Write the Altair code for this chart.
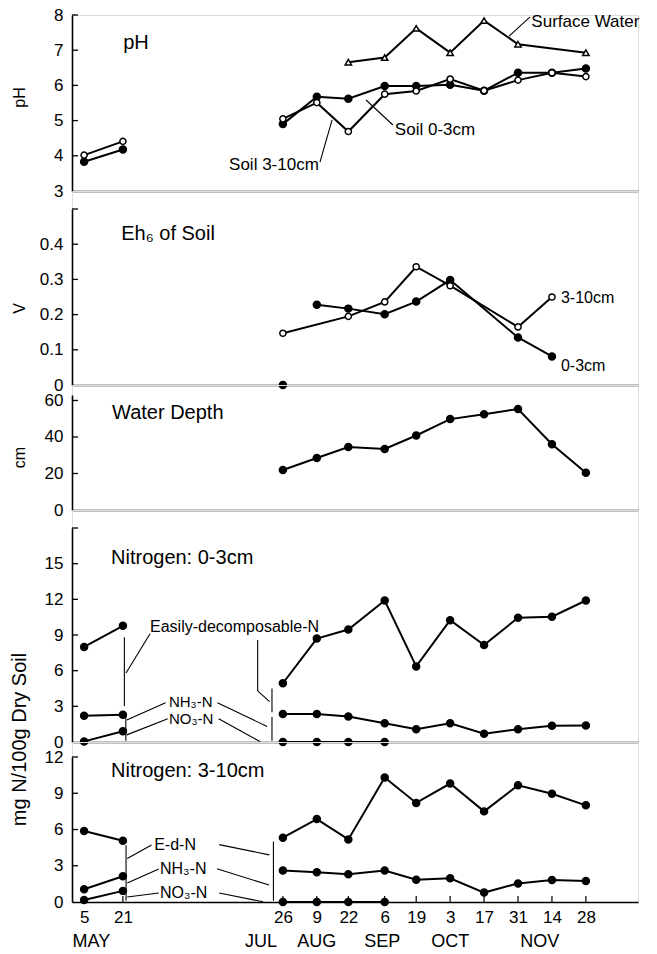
import altair as alt
import pandas as pd

# ---------------- shared x axis (day of year) ----------------
days = [125, 141, 207, 221, 234, 249, 262, 276, 290, 304, 318, 332]
day_labels = ["5", "21", "26", "9", "22", "6", "19", "3", "17", "31", "14", "28"]
month_labels = ["MAY", "JUL", "AUG", "SEP", "OCT", "NOV"]
month_days = [128, 198, 221, 248, 276, 313]

# ---------------- pH ----------------
ph_soil_0_3 = [3.83, 4.18, 4.90, 5.68, 5.62, 5.98, 5.98, 6.02, 5.85, 6.36, 6.36, 6.48]
ph_soil_3_10 = [4.02, 4.41, 5.05, 5.51, 4.69, 5.75, 5.84, 6.18, 5.85, 6.15, 6.36, 6.25]
ph_surface = [None, None, None, None, 6.66, 6.79, 7.62, 6.93, 7.84, 7.17, None, 6.93]
ph_ticks = [3, 4, 5, 6, 7, 8]

# ---------------- Eh6 (V) ----------------
eh_0_3 = [None, None, 0.0, 0.228, 0.217, 0.201, 0.237, 0.298, None, 0.135, 0.081, None]
eh_3_10 = [None, None, 0.147, None, 0.195, 0.236, 0.336, 0.282, None, 0.165, 0.25, None]
eh_ticks = [0, 0.1, 0.2, 0.3, 0.4]

# ---------------- Water depth (cm) ----------------
water_depth = [None, None, 21.9, 28.5, 34.5, 33.4, 40.8, 49.8, 52.5, 55.3, 36.0, 20.4]
wd_ticks = [0, 20, 40, 60]

# ---------------- Nitrogen 0-3 cm ----------------
n1_edn = [8.0, 9.77, 4.94, 8.7, 9.46, 11.9, 6.36, 10.25, 8.16, 10.45, 10.54, 11.9]
n1_nh3 = [2.2, 2.3, 2.35, 2.35, 2.15, 1.58, 1.08, 1.58, 0.69, 1.08, 1.36, 1.39]
n1_no3 = [0.05, 0.9, 0.0, 0.0, 0.0, 0.0, None, None, None, None, None, None]
n1_ticks = [0, 3, 6, 9, 12, 15]

# ---------------- Nitrogen 3-10 cm ----------------
n2_edn = [5.88, 5.07, 5.32, 6.86, 5.18, 10.3, 8.2, 9.8, 7.5, 9.66, 8.96, 8.0]
n2_nh3 = [1.06, 2.13, 2.6, 2.46, 2.3, 2.6, 1.85, 1.96, 0.78, 1.54, 1.82, 1.74]
n2_no3 = [0.17, 0.92, 0.0, 0.0, 0.0, 0.0, None, None, None, None, None, None]
n2_ticks = [0, 3, 6, 9, 12]

FONT = "Liberation Sans"
TICKFONT = "Liberation Sans"
X_DOMAIN = [120, 353.5]
W = 566


def series_df(values, name, marker, breaks=(2,)):
    rows = []
    for i, (d, v) in enumerate(zip(days, values)):
        if v is None:
            continue
        seg = sum(1 for b in breaks if i >= b)
        rows.append({"day": d, "value": v, "key": f"{name}-{seg}", "marker": marker})
    return pd.DataFrame(rows)


def texts_df(items):
    return pd.DataFrame(items, columns=["text", "day", "value", "fs"])


def segs_df(items):
    return pd.DataFrame(items, columns=["day", "value", "day2", "value2"])


label_expr = ("[" + ",".join(f"'{l}'" for l in day_labels) + "][indexof(["
              + ",".join(str(d) for d in days) + "], datum.value)]")


def panel(series, ydom, yticks, H, gap, ytitle, title_y, texts, segs, inner_ticks,
          bottom=False, title_size=16):
    if bottom:
        xaxis = alt.Axis(values=days, labelExpr=label_expr, ticks=False, grid=False, title=None,
                         labelFont=TICKFONT, labelFontSize=17, labelPadding=7, labelColor="black",
                         domainColor="black", domainWidth=1.6)
    else:
        xaxis = alt.Axis(labels=False, ticks=False, grid=False, title=None,
                         domainColor="black", domainWidth=1.6)
    x = alt.X("day:Q", scale=alt.Scale(domain=X_DOMAIN, nice=False, zero=False), axis=xaxis)
    yaxis_kw = dict(values=yticks, format="~r", ticks=False, grid=False, labelFont=TICKFONT,
                    labelFontSize=17, labelPadding=9, labelColor="black",
                    domainColor="black", domainWidth=1.6)
    if ytitle:
        yaxis_kw.update(title=ytitle, titleX=-53, titleY=title_y, titleAngle=270,
                        titleBaseline="middle", titleAlign="center", titleFont=FONT,
                        titleFontSize=title_size, titleFontWeight="normal", titleColor="black")
    else:
        yaxis_kw.update(title=None)
    y = alt.Y("value:Q", scale=alt.Scale(domain=ydom, range=[H, gap], nice=False, zero=False),
              axis=alt.Axis(**yaxis_kw))

    df = pd.concat(series, ignore_index=True)
    base = alt.Chart(df)
    layers = [
        base.mark_line(color="black", strokeWidth=2).encode(x=x, y=y, detail="key:N"),
        base.transform_filter("datum.marker == 'filled'").mark_point(
            shape="circle", filled=True, fill="black", stroke="black", size=42, opacity=1
        ).encode(x=x, y=y),
        base.transform_filter("datum.marker == 'open'").mark_point(
            shape="circle", filled=True, fill="white", stroke="black", strokeWidth=1.5, size=38, opacity=1
        ).encode(x=x, y=y),
        base.transform_filter("datum.marker == 'tri'").mark_point(
            shape="triangle-up", filled=True, fill="white", stroke="black", strokeWidth=1.5, size=40, opacity=1
        ).encode(x=x, y=y),
        alt.Chart(pd.DataFrame({"value": inner_ticks})).mark_rule(color="black", strokeWidth=1.3).encode(
            x=alt.value(0), x2=alt.value(6), y=y),
    ]
    if segs:
        layers.append(alt.Chart(segs_df(segs)).mark_rule(color="black", strokeWidth=1.1).encode(
            x=x, y=y, x2="day2:Q", y2="value2:Q"))
    layers.append(alt.Chart(texts_df(texts)).mark_text(
        align="left", baseline="middle", font=FONT, color="black").encode(
        x=x, y=y, text="text:N", size=alt.Size("fs:Q", scale=None, legend=None)))
    if bottom:
        layers.append(alt.Chart(pd.DataFrame({"day": days})).mark_rule(color="black", strokeWidth=1.2).encode(
            x=x, y=alt.value(H), y2=alt.value(H - 6)))
        layers.append(alt.Chart(pd.DataFrame({"day": month_days, "text": month_labels})).mark_text(
            align="center", baseline="middle", font=TICKFONT, fontSize=18, color="black").encode(
            x=x, y=alt.value(H + 40), text="text:N"))
    return alt.layer(*layers).properties(width=W, height=H)


p1 = panel(
    [series_df(ph_soil_0_3, "s03", "filled"), series_df(ph_soil_3_10, "s310", "open"),
     series_df(ph_surface, "sw", "tri")],
    [3, 8], ph_ticks, 176, 0, "pH", 82,
    [("pH", 141.1, 7.2, 20), ("Surface Water", 309.5, 7.8, 17),
     ("Soil 0-3cm", 253.2, 4.73, 17), ("Soil 3-10cm", 184.8, 3.74, 17)],
    [(308.9, 7.94, 300.3, 7.40), (252.4, 4.875, 241.3, 5.585), (222.3, 3.82, 227.3, 5.02)],
    [4, 5, 6, 7, 8],
)

p2 = panel(
    [series_df(eh_0_3, "e03", "filled", breaks=(2, 3)), series_df(eh_3_10, "e310", "open")],
    [0, 0.5], eh_ticks, 194, 18, "V", 117,
    [("Eh\u2086 of Soil", 140.3, 0.428, 20), ("3-10cm", 321.7, 0.248, 16), ("0-3cm", 321.7, 0.054, 16)],
    [],
    [0.1, 0.2, 0.3, 0.4, 0.5],
)

p3 = panel(
    [series_df(water_depth, "wd", "filled")],
    [0, 63], wd_ticks, 125, 10, "cm", 72,
    [("Water Depth", 136.5, 52.9, 20)],
    [],
    [20, 40, 60],
)

p4 = panel(
    [series_df(n1_edn, "edn", "filled"), series_df(n1_nh3, "nh3", "filled"),
     series_df(n1_no3, "no3", "filled")],
    [0, 18], n1_ticks, 232, 18, "mg N/100g Dry Soil", 229,
    [("Nitrogen: 0-3cm", 136.1, 15.46, 20), ("Easily-decomposable-N", 152.2, 9.66, 16),
     ("NH\u2083-N", 160.0, 3.4, 15), ("NO\u2083-N", 160.0, 1.95, 15)],
    [(141.6, 8.82, 141.6, 3.03), (142.3, 5.8, 152.2, 9.1),
     (196.6, 8.57, 196.6, 4.3), (196.6, 4.3, 201.5, 3.4), (202.5, 4.5, 202.5, 2.5),
     (158.6, 3.3, 142.6, 1.85), (159.5, 1.95, 142.6, 0.6), (142.2, 2.2, 142.2, 0.1),
     (180.0, 3.3, 200.5, 1.3), (180.5, 1.95, 197.5, 0.05), (202.5, 2.1, 202.5, 0.1)],
    [3, 6, 9, 12, 15, 18],
    title_size=20,
)

p5 = panel(
    [series_df(n2_edn, "edn", "filled"), series_df(n2_nh3, "nh3", "filled"),
     series_df(n2_no3, "no3", "filled")],
    [0, 12], n2_ticks, 160, 15, None, 0,
    [("Nitrogen: 3-10cm", 136.1, 10.83, 20), ("E-d-N", 153.9, 4.71, 16),
     ("NH\u2083-N", 156.3, 2.73, 16), ("NO\u2083-N", 156.3, 0.74, 16)],
    [(142.3, 4.7, 142.3, 0.1), (152.8, 4.71, 142.8, 3.6), (155.8, 2.73, 142.8, 1.57),
     (155.8, 0.74, 142.8, 0.42), (180.7, 4.75, 201.4, 3.9), (179.8, 2.75, 201.3, 1.4),
     (180.7, 0.75, 198.8, 0.02), (203.1, 5.0, 203.1, 0.1)],
    [3, 6, 9, 12],
    bottom=True,
)

chart = alt.vconcat(p1, p2, p3, p4, p5, spacing=0, bounds="flush").properties(
    padding={"left": 8, "top": 5, "right": 0, "bottom": 0}
).configure_view(stroke=None).configure(background="white")

chart.save("out.html", embed_options={"renderer": "svg", "actions": False})
